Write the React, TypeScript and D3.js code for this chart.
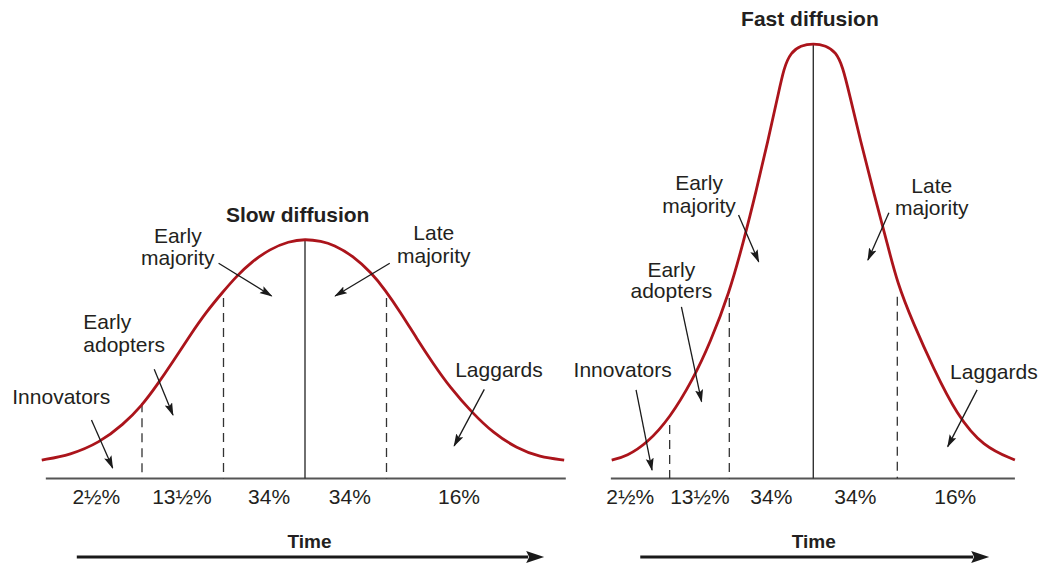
import React from 'react';
import * as d3 from 'd3';

// ---- Data (x in "time" units where the dashed lines sit near ±1, y in relative adoption) ----
const slowCurve: [number, number][] = [
  [-3.23, 7.7], [-2.88, 9.8], [-2.52, 15.0], [-2.23, 22.5], [-2.0, 30.5], [-1.82, 38.8],
  [-1.62, 48.8], [-1.41, 59.8], [-1.21, 69.6], [-1.01, 77.8], [-0.84, 84.5], [-0.65, 90.6],
  [-0.43, 95.8], [-0.2, 99.0], [0, 100], [0.2, 99.1], [0.35, 97.6], [0.59, 93.0],
  [0.82, 85.7], [0.98, 78.9], [1.17, 69.5], [1.37, 58.5], [1.57, 48.1], [1.78, 38.0],
  [2.05, 27.5], [2.31, 19.0], [2.6, 12.6], [2.88, 8.9], [3.18, 7.7],
];
const fastCurve: [number, number][] = [
  [-2.4, 7.7], [-2.22, 9.3], [-1.98, 14.7], [-1.71, 25.1], [-1.43, 41.5], [-1.23, 56.5],
  [-1.0, 77.5], [-0.83, 99.0], [-0.68, 120.0], [-0.54, 141.0], [-0.42, 160.0], [-0.35, 171.5],
  [-0.27, 177.8], [-0.15, 180.8], [0, 181.7], [0.15, 180.8], [0.27, 178.0], [0.35, 172.0],
  [0.43, 160.5], [0.56, 141.3], [0.71, 120.5], [0.87, 99.6], [1.0, 81.5], [1.19, 64.8],
  [1.43, 46.0], [1.71, 26.5], [2.02, 13.3], [2.4, 7.7],
];

const slowBounds = [-2, -1, 1];
const slowBoundTops = [31.4, 75.4, 75.4];
const slowPeak = 100;
const fastBounds = [-1.71, -1, 1];
const fastBoundTops = [22.3, 75.4, 75.9];
const fastPeak = 181.7;

const shareLabels = ['2½%', '13½%', '34%', '34%', '16%'];
const slowShareT = [-2.56, -1.51, -0.44, 0.55, 1.89];
const fastShareT = [-2.18, -1.35, -0.5, 0.5, 1.69];

const slowAxis = [-3.18, 3.2];
const fastAxis = [-2.41, 2.4];
const slowTimeArrow = [-2.8, 2.91];
const fastTimeArrow = [-2.06, 2.07];

const titles = ['Slow diffusion', 'Fast diffusion'];
const titleT = [-0.09, -0.04];
const titleV = [107.2, 188.9];

type Note = { lines: string[]; t: number; v: number[]; anchor: string; from: [number, number]; to: [number, number] };

const slowNotes: Note[] = [
  { lines: ['Innovators'], t: -2.99, v: [31.1], anchor: 'middle', from: [-2.62, 24.4], to: [-2.36, 4.4] },
  { lines: ['Early', 'adopters'], t: -2.72, v: [62.3, 52.9], anchor: 'start', from: [-1.85, 45.6], to: [-1.62, 26.5] },
  { lines: ['Early', 'majority'], t: -1.56, v: [98.3, 89.1], anchor: 'middle', from: [-1.06, 89.9], to: [-0.41, 76.2] },
  { lines: ['Late', 'majority'], t: 1.58, v: [99.4, 90.0], anchor: 'middle', from: [1.04, 89.9], to: [0.37, 76.2] },
  { lines: ['Laggards'], t: 2.38, v: [42.5], anchor: 'middle', from: [2.2, 37.2], to: [1.83, 13.6] },
];
const fastNotes: Note[] = [
  { lines: ['Innovators'], t: -2.27, v: [42.5], anchor: 'middle', from: [-2.11, 37.0], to: [-1.92, 3.5] },
  { lines: ['Early', 'adopters'], t: -1.69, v: [84.3, 75.2], anchor: 'middle', from: [-1.57, 71.7], to: [-1.33, 32.1] },
  { lines: ['Early', 'majority'], t: -1.36, v: [120.5, 111.0], anchor: 'middle', from: [-0.89, 110.0], to: [-0.65, 90.5] },
  { lines: ['Late', 'majority'], t: 1.41, v: [119.3, 110.0], anchor: 'middle', from: [0.9, 111.0], to: [0.65, 91.2] },
  { lines: ['Laggards'], t: 2.15, v: [41.4], anchor: 'middle', from: [1.95, 37.0], to: [1.6, 13.3] },
];

const shareV = -10.6;
const timeLabelV = -28.9;
const timeArrowV = -32.8;

// ---- Styling ----
const FONT = '"Liberation Sans", Arial, Helvetica, sans-serif';
const TEXT = '#231f20';
const RED = '#ab141b';

const y = d3.scaleLinear().domain([0, 100]).range([478.5, 239]);
const xSlow = d3.scaleLinear().domain([-1, 1]).range([223.5, 386.5]);
const xFast = d3.scaleLinear().domain([-1, 1]).range([729.3, 897.3]);

function Panel({ x, curve, bounds, boundTops, peak, shareT, axis, timeArrow, notes, title, tT, tV }: any) {
  const line = d3
    .line<[number, number]>()
    .x((d) => x(d[0]))
    .y((d) => y(d[1]))
    .curve(d3.curveBasis);
  return (
    <g>
      <line x1={x(axis[0])} x2={x(axis[1])} y1={y(0)} y2={y(0)} stroke="#555" strokeWidth={2} />
      {bounds.map((b: number, i: number) => (
        <line key={i} x1={x(b)} x2={x(b)} y1={y(boundTops[i])} y2={y(0)} stroke="#333" strokeWidth={1.3} strokeDasharray="9,6" />
      ))}
      <line x1={x(0)} x2={x(0)} y1={y(peak)} y2={y(0)} stroke="#333" strokeWidth={1.4} />
      <path d={line(curve) || ''} fill="none" stroke={RED} strokeWidth={2.8} />
      {shareLabels.map((s, i) => (
        <text key={i} x={x(shareT[i])} y={y(shareV)} textAnchor="middle" fontSize={21} fill={TEXT}>{s}</text>
      ))}
      <text x={x((timeArrow[0] + timeArrow[1]) / 2)} y={y(timeLabelV)} textAnchor="middle" fontSize={19} fontWeight="bold" fill={TEXT}>Time</text>
      <line x1={x(timeArrow[0])} x2={x(timeArrow[1]) - 14} y1={y(timeArrowV)} y2={y(timeArrowV)} stroke="#1a1a1a" strokeWidth={3} markerEnd="url(#bigHead)" />
      <text x={x(tT)} y={y(tV)} textAnchor="middle" fontSize={21} fontWeight="bold" fill={TEXT}>{title}</text>
      {notes.map((n: Note, i: number) => (
        <g key={i}>
          {n.lines.map((l, j) => (
            <text key={j} x={x(n.t)} y={y(n.v[j])} textAnchor={n.anchor as any} fontSize={21} fill={TEXT}>{l}</text>
          ))}
          <line x1={x(n.from[0])} y1={y(n.from[1])} x2={x(n.to[0])} y2={y(n.to[1])} stroke="#1a1a1a" strokeWidth={1.3} markerEnd="url(#head)" />
        </g>
      ))}
    </g>
  );
}

export default function App() {
  return (
    <svg width={1040} height={564} style={{ position: 'absolute', left: 0, top: 0, background: '#fff' }} fontFamily={FONT}>
      <defs>
        <marker id="head" markerUnits="userSpaceOnUse" markerWidth={14} markerHeight={9} refX={12} refY={4} orient="auto" viewBox="0 0 14 9">
          <path d="M0,0 L13,4 L0,8 L2.5,4 Z" fill="#1a1a1a" />
        </marker>
        <marker id="bigHead" markerUnits="userSpaceOnUse" markerWidth={20} markerHeight={13} refX={2} refY={6} orient="auto" viewBox="0 0 20 13">
          <path d="M0,0 L18,6 L0,12 L3,6 Z" fill="#1a1a1a" />
        </marker>
      </defs>
      <rect width={1040} height={564} fill="#fff" />
      <Panel x={xSlow} curve={slowCurve} bounds={slowBounds} boundTops={slowBoundTops} peak={slowPeak} shareT={slowShareT}
        axis={slowAxis} timeArrow={slowTimeArrow} notes={slowNotes} title={titles[0]} tT={titleT[0]} tV={titleV[0]} />
      <Panel x={xFast} curve={fastCurve} bounds={fastBounds} boundTops={fastBoundTops} peak={fastPeak} shareT={fastShareT}
        axis={fastAxis} timeArrow={fastTimeArrow} notes={fastNotes} title={titles[1]} tT={titleT[1]} tV={titleV[1]} />
    </svg>
  );
}
